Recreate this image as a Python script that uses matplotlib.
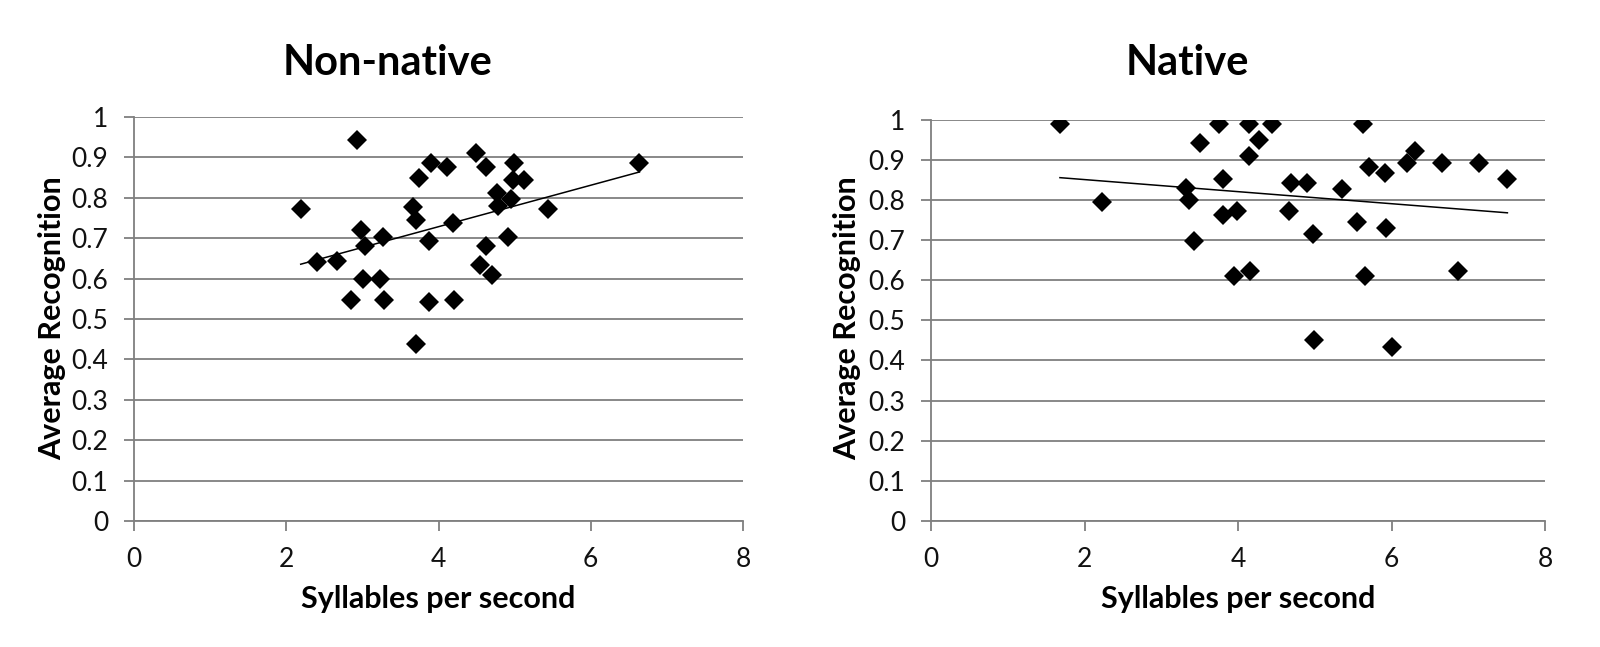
import numpy as np
import matplotlib
matplotlib.use("Agg")
import matplotlib.pyplot as plt

plt.rcParams['font.family'] = ['Lato', 'DejaVu Sans']

# Non-native speakers
nn_x = [2.19, 2.41, 2.67, 2.85, 2.93, 2.98, 3.03, 3.01, 3.23, 3.28, 3.27, 3.67,
        3.70, 3.74, 3.70, 3.87, 3.90, 3.88, 4.11, 4.19, 4.20, 4.49, 4.54, 4.62,
        4.62, 4.70, 4.77, 4.78, 4.91, 4.95, 4.99, 4.98, 5.12, 5.44, 6.64]
nn_y = [0.773, 0.641, 0.644, 0.548, 0.942, 0.721, 0.680, 0.598, 0.598, 0.548, 0.703, 0.776,
        0.746, 0.848, 0.438, 0.542, 0.885, 0.693, 0.876, 0.738, 0.548, 0.911, 0.633, 0.876,
        0.680, 0.610, 0.811, 0.779, 0.702, 0.796, 0.885, 0.845, 0.843, 0.773, 0.885]

# Native speakers
na_x = [1.68, 2.23, 3.32, 3.36, 3.43, 3.51, 3.75, 3.80, 3.80, 3.95, 3.99, 4.14,
        4.14, 4.15, 4.28, 4.44, 4.66, 4.69, 4.90, 4.98, 4.99, 5.36, 5.55, 5.63,
        5.66, 5.71, 5.91, 5.93, 6.00, 6.20, 6.30, 6.66, 6.87, 7.14, 7.51]
na_y = [0.990, 0.795, 0.830, 0.799, 0.697, 0.941, 0.989, 0.852, 0.762, 0.611, 0.772, 0.989,
        0.910, 0.623, 0.949, 0.990, 0.773, 0.842, 0.842, 0.716, 0.452, 0.827, 0.745, 0.990,
        0.611, 0.882, 0.867, 0.730, 0.433, 0.892, 0.922, 0.892, 0.623, 0.892, 0.851]

titles = ["Non-native", "Native"]
xlabel = "Syllables per second"
ylabel = "Average Recognition"
xticks = [0, 2, 4, 6, 8]
yticks = [0, 0.1, 0.2, 0.3, 0.4, 0.5, 0.6, 0.7, 0.8, 0.9, 1]
ytick_labels = ["0", "0.1", "0.2", "0.3", "0.4", "0.5", "0.6", "0.7", "0.8", "0.9", "1"]

W, H = 1600, 647
fig = plt.figure(figsize=(W / 100, H / 100), dpi=100)

gray = '#7f7f7f'

def px_rect(x0, x1, ytop, ybot):
    return [x0 / W, (H - ybot) / H, (x1 - x0) / W, (ybot - ytop) / H]

panels = [
    (nn_x, nn_y, px_rect(134, 743, 117, 521), 388, 52),
    (na_x, na_y, px_rect(931, 1545, 119.5, 521), 1187, 847),
]

for i, (xs, ys, rect, tx, ylx) in enumerate(panels):
    ax = fig.add_axes(rect)
    ax.set_xlim(0, 8)
    ax.set_ylim(0, 1)
    ax.set_yticks(yticks)
    ax.set_yticklabels(ytick_labels)
    ax.set_xticks(xticks)
    ax.grid(axis='y', color=gray, linewidth=1.3)
    ax.set_axisbelow(True)
    for s in ['top', 'right']:
        ax.spines[s].set_visible(False)
    for s in ['left', 'bottom']:
        ax.spines[s].set_color(gray)
        ax.spines[s].set_linewidth(1.3)
    ax.tick_params(axis='both', colors=gray, length=7, width=1.3, labelsize=19,
                   labelcolor='#111111')
    ax.tick_params(axis='x', pad=12)
    ax.tick_params(axis='y', pad=11.5)

    xa = np.array(xs)
    ya = np.array(ys)
    k, b = np.polyfit(xa, ya, 1)
    lx = np.array([xa.min(), xa.max()])
    ax.plot(lx, k * lx + b, color='black', linewidth=1.1, zorder=2)
    ax.plot(xa, ya, linestyle='none', marker='D', markersize=10,
            markeredgewidth=0, color='black', zorder=3)

    fig.text(tx / W, (H - 75) / H, titles[i], ha='center', va='baseline',
             fontsize=30, fontweight='bold')
    fig.text(ylx / W, (H - 318) / H, ylabel, ha='center', va='center',
             rotation=90, fontsize=22, fontweight='bold')
    cx = (rect[0] + rect[2] / 2)
    fig.text(cx, (H - 608) / H, xlabel, ha='center', va='baseline',
             fontsize=22, fontweight='bold')

fig.savefig('out.png', dpi=100)
